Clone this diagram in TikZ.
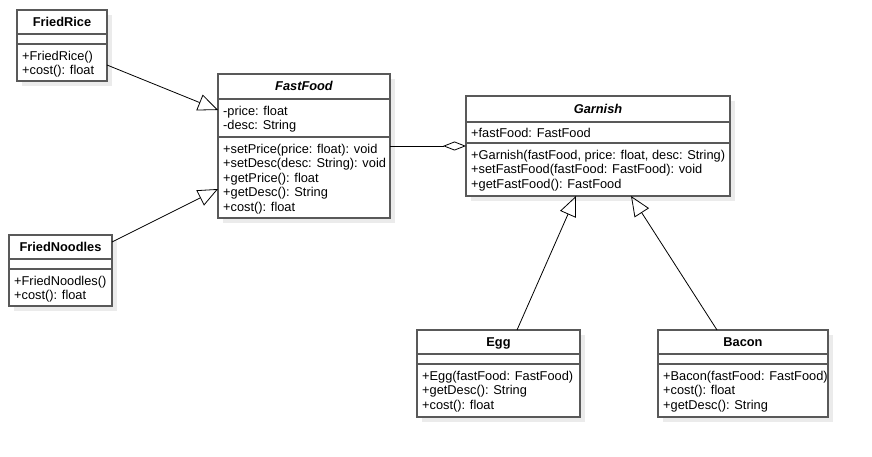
\documentclass[tikz,border=0pt]{standalone}
\usepackage{fontspec}
\setmainfont{Liberation Sans}
\usetikzlibrary{arrows.meta,shadows}

\begin{document}
\begin{tikzpicture}[x=1pt,y=1pt,
    umlclass/.style={draw=black!65, line width=1.1pt, fill=white, anchor=north west,
        inner sep=0pt, outer sep=0pt,
        drop shadow={shadow xshift=5pt, shadow yshift=-5pt, fill=black!8, opacity=1}},
    divider/.style={draw=black!65, line width=1.1pt},
    classname/.style={font=\fontsize{12.8}{14.4}\selectfont\bfseries, text height=9pt, text depth=0pt, inner sep=0pt},
    abstractname/.style={classname, font=\fontsize{12.8}{14.4}\selectfont\bfseries\itshape},
    members/.style={font=\fontsize{12.8}{14.5}\selectfont, align=left, anchor=north west, inner sep=0pt},
    inherit/.style={draw=black, line width=0.8pt, -{Triangle[open,length=20pt,width=17pt]}},
    aggregate/.style={draw=black, line width=0.8pt, -{Diamond[open,length=23pt,width=9pt]}}]
    \fill[white] (0,0) rectangle (872,-457);
    \useasboundingbox (0,0) rectangle (872,-457);
    % FriedRice
    \node[umlclass, minimum width=90pt, minimum height=71pt] (rice) at (17,-10) {};
    \node[classname] (rice-name) at ([yshift=-12pt]rice.north) {FriedRice};
    \draw[divider] ([yshift=-24pt]rice.north west) -- ([yshift=-24pt]rice.north east);
    \draw[divider] ([yshift=-34pt]rice.north west) -- ([yshift=-34pt]rice.north east);
    \node[members] (rice-ops) at ([xshift=5pt,yshift=-40pt]rice.north west) {\strut+FriedRice()\\+cost(): float};
    % FriedNoodles
    \node[umlclass, minimum width=103pt, minimum height=71pt] (noodles) at (9,-235) {};
    \node[classname] (noodles-name) at ([yshift=-12pt]noodles.north) {FriedNoodles};
    \draw[divider] ([yshift=-24pt]noodles.north west) -- ([yshift=-24pt]noodles.north east);
    \draw[divider] ([yshift=-34pt]noodles.north west) -- ([yshift=-34pt]noodles.north east);
    \node[members] (noodles-ops) at ([xshift=5pt,yshift=-40pt]noodles.north west) {\strut+FriedNoodles()\\+cost(): float};
    % FastFood
    \node[umlclass, minimum width=172pt, minimum height=144pt] (fast) at (218,-74) {};
    \node[abstractname] (fast-name) at ([yshift=-12.5pt]fast.north) {FastFood};
    \draw[divider] ([yshift=-25pt]fast.north west) -- ([yshift=-25pt]fast.north east);
    \draw[divider] ([yshift=-63pt]fast.north west) -- ([yshift=-63pt]fast.north east);
    \node[members] (fast-attr) at ([xshift=5pt,yshift=-31pt]fast.north west) {\strut-price: float\\-desc: String};
    \node[members] (fast-ops) at ([xshift=5pt,yshift=-69pt]fast.north west)
        {\strut+setPrice(price: float): void\\+setDesc(desc: String): void\\+getPrice(): float\\+getDesc(): String\\+cost(): float};
    % Garnish
    \node[umlclass, minimum width=264pt, minimum height=100pt] (garnish) at (466,-96) {};
    \node[abstractname] (garnish-name) at ([yshift=-13pt]garnish.north) {Garnish};
    \draw[divider] ([yshift=-26pt]garnish.north west) -- ([yshift=-26pt]garnish.north east);
    \draw[divider] ([yshift=-47pt]garnish.north west) -- ([yshift=-47pt]garnish.north east);
    \node[members] (garnish-attr) at ([xshift=5pt,yshift=-31pt]garnish.north west) {\strut+fastFood: FastFood};
    \node[members] (garnish-ops) at ([xshift=5pt,yshift=-53pt]garnish.north west)
        {\strut+Garnish(fastFood, price: float, desc: String)\\+setFastFood(fastFood: FastFood): void\\+getFastFood(): FastFood};
    % Egg
    \node[umlclass, minimum width=163pt, minimum height=87pt] (egg) at (417,-330) {};
    \node[classname] (egg-name) at ([yshift=-12pt]egg.north) {Egg};
    \draw[divider] ([yshift=-24pt]egg.north west) -- ([yshift=-24pt]egg.north east);
    \draw[divider] ([yshift=-34pt]egg.north west) -- ([yshift=-34pt]egg.north east);
    \node[members] (egg-ops) at ([xshift=5pt,yshift=-40pt]egg.north west)
        {\strut+Egg(fastFood: FastFood)\\+getDesc(): String\\+cost(): float};
    % Bacon
    \node[umlclass, minimum width=170pt, minimum height=87pt] (bacon) at (658,-330) {};
    \node[classname] (bacon-name) at ([yshift=-12pt]bacon.north) {Bacon};
    \draw[divider] ([yshift=-24pt]bacon.north west) -- ([yshift=-24pt]bacon.north east);
    \draw[divider] ([yshift=-34pt]bacon.north west) -- ([yshift=-34pt]bacon.north east);
    \node[members] (bacon-ops) at ([xshift=5pt,yshift=-40pt]bacon.north west)
        {\strut+Bacon(fastFood: FastFood)\\+cost(): float\\+getDesc(): String};
    % Connect classes
    \draw[inherit] ([yshift=16pt]rice.south east) -- ([yshift=-36pt]fast.north west);
    \draw[inherit] ([yshift=-7pt]noodles.north east) -- ([yshift=29pt]fast.south west);
    \draw[aggregate] (fast.east) -- (garnish.west);
    \draw[inherit] ([xshift=18.5pt]egg.north) -- ([xshift=110pt]garnish.south west);
    \draw[inherit] ([xshift=-26pt]bacon.north) -- ([xshift=165pt]garnish.south west);
\end{tikzpicture}
\end{document}
